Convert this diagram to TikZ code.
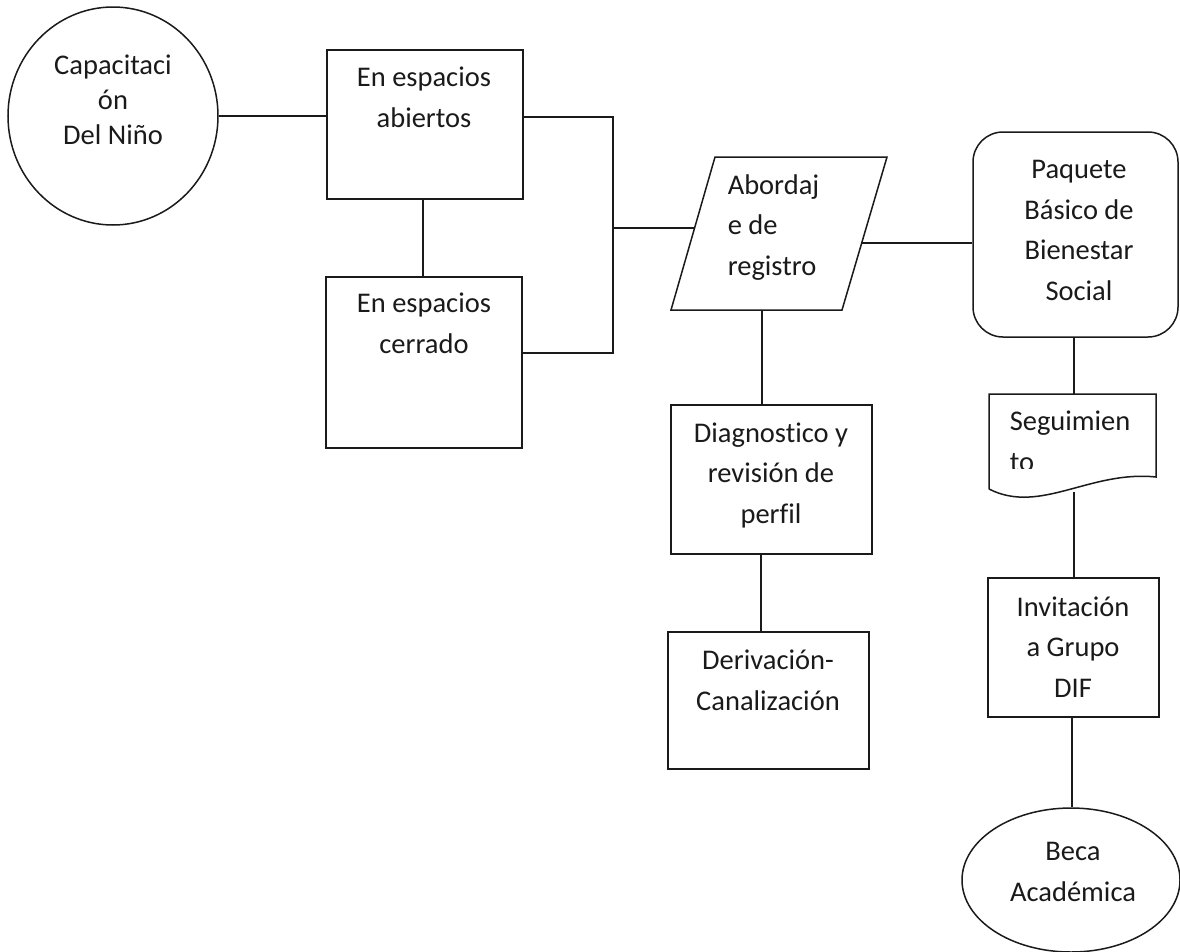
\documentclass[tikz,border=0pt]{standalone}
\usepackage{fontspec}
\setmainfont[Ligatures={NoCommon}]{Carlito}
\usetikzlibrary{shapes.geometric}
\definecolor{ink}{HTML}{1A1A1A}
\begin{document}
\begin{tikzpicture}[x=1pt,y=-1pt,line width=1.5pt,draw=ink,
  boxshape/.style={draw=ink,rectangle,inner sep=0pt},
  ovalshape/.style={draw=ink,ellipse,inner sep=0pt},
  lbl/.style={font=\fontsize{28.5}{40.5}\selectfont,align=center,inner sep=0pt,anchor=base,text=ink},
  lbll/.style={font=\fontsize{28.5}{40.5}\selectfont,align=left,inner sep=0pt,anchor=base west,text=ink},
  conn/.style={draw=ink,line width=1.5pt}]
\useasboundingbox (0,0) rectangle (1180,951);

% shapes
\node[ovalshape,minimum width=210pt,minimum height=218pt] (cap) at (113,116) {};
\node[boxshape,minimum width=196pt,minimum height=149pt] (b1) at (425,124.5) {};
\node[boxshape,minimum width=196pt,minimum height=171pt] (b2) at (424,362.5) {};
\node[boxshape,minimum width=201pt,minimum height=149pt] (dg) at (771.5,479.5) {};
\node[boxshape,minimum width=201pt,minimum height=137pt] (dv) at (768.5,700.5) {};
\node[boxshape,rounded corners=30pt,minimum width=205pt,minimum height=205pt] (pq) at (1075.5,234.5) {};
\node[boxshape,minimum width=171pt,minimum height=139pt] (inv) at (1073.5,647.5) {};
\node[ovalshape,minimum width=218pt,minimum height=144pt] (beca) at (1071,880) {};

% parallelogram
\coordinate (pTL) at (715,157);
\coordinate (pTR) at (887,157);
\coordinate (pBR) at (842,310);
\coordinate (pBL) at (671,310);
\draw[conn] (pTL) -- (pTR) -- (pBR) -- (pBL) -- cycle;
\coordinate (pL) at (694.5,228);
\coordinate (pR) at (862,243);
\coordinate (pB) at (762,310);

% document shape
\coordinate (dTop) at (1074,394);
\coordinate (dBot) at (1074,492);
\draw[conn] (989,489) -- (989,394) -- (1156,394) -- (1156,477)
  .. controls (1090,470) and (1040,515) .. (989,489);

% connectors
\coordinate (j1) at (613,117);
\coordinate (jm) at (613,228);
\coordinate (j2) at (613,353);
\draw[conn] (cap.east) -- (cap.east -| b1.west);
\draw[conn] (b1.south -| 423,0) -- (b2.north -| 423,0);
\draw[conn] (b1.east |- j1) -- (j1) -- (j2) -- (b2.east |- j2);
\draw[conn] (jm) -- (pL);
\draw[conn] (pR) -- (pR -| pq.west);
\draw[conn] (pB) -- (pB |- dg.north);
\draw[conn] (dg.south -| 761,0) -- (dv.north -| 761,0);
\draw[conn] (pq.south -| dTop) -- (dTop);
\draw[conn] (dBot) -- (dBot |- inv.north);
\draw[conn] (inv.south -| 1072,0) -- (beca.north -| 1072,0);

% texts (anchored at the baseline of the last line)
\node[lbl,font=\fontsize{28.5}{35}\selectfont] (tcap) at (113,144) {Capacitaci\\ón\\Del Niño};
\node[lbl] (tb1) at (424,127) {En espacios\\abiertos};
\node[lbl] (tb2) at (424,353) {En espacios\\cerrado};
\node[lbll] (tp) at (727,275) {Abordaj\\e de\\registro};
\node[lbl] (tpq) at (1079,300) {Paquete\\Básico de\\Bienestar\\Social};
\begin{scope}
  \clip (989,394) rectangle (1156,468);
  \node[lbll] (tdoc) at (1009,471) {Seguimien\\to};
\end{scope}
\node[lbl] (tdg) at (771,523) {Diagnostico y\\revisión de\\perfil};
\node[lbl] (tdv) at (768,710) {Derivación-\\Canalización};
\node[lbl] (tinv) at (1073,697) {Invitación\\a Grupo\\DIF};
\node[lbl] (tbeca) at (1073,901) {Beca\\Académica};
\end{tikzpicture}
\end{document}
